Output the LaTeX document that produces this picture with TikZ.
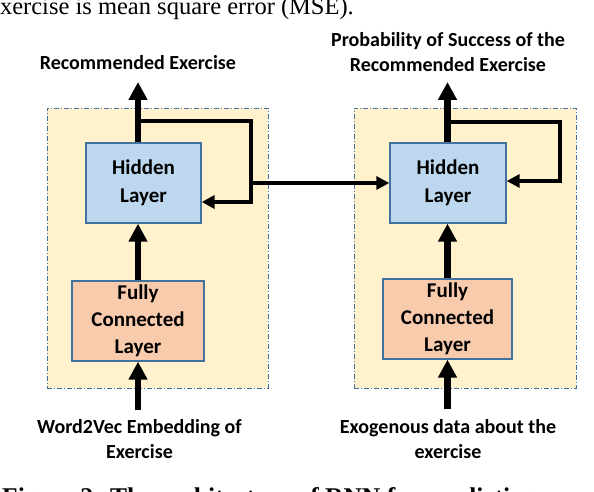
\documentclass[tikz,border=0pt]{standalone}
\usepackage{fontspec}
\setmainfont{Carlito}
\newfontfamily\timesf{Liberation Serif}
\usetikzlibrary{arrows.meta}
\definecolor{contfill}{HTML}{FFF2CC}
\definecolor{edgeblue}{HTML}{41719C}
\definecolor{hidfill}{HTML}{BDD7EE}
\definecolor{fcfill}{HTML}{F8CBAD}
\begin{document}
\begin{tikzpicture}[x=1pt,y=-1pt,
  container/.style={draw=edgeblue, fill=contfill, line width=0.8pt,
    dash pattern=on 5pt off 2pt on 1pt off 2pt, inner sep=0pt},
  hidbox/.style={draw=edgeblue, fill=hidfill, line width=1.3pt, align=center,
    font=\bfseries\fontsize{21}{28}\selectfont, inner sep=0pt,
    minimum height=80pt},
  fcbox/.style={draw=edgeblue, fill=fcfill, line width=1.3pt, align=center,
    font=\bfseries\fontsize{21}{27}\selectfont, inner sep=0pt,
    minimum height=80pt},
  lbl/.style={font=\bfseries\fontsize{20}{25}\selectfont, inner sep=0pt, anchor=base},
  pagetext/.style={anchor=base west, inner sep=0pt},
  bigarrow/.style={line width=6.3pt, -{Triangle[length=18pt,width=18pt]}},
  fb/.style={line width=4pt, line join=miter, -{Triangle[length=13pt,width=13pt]}}]
\useasboundingbox (0,0) rectangle (594,492);
\begin{scope}
  \clip (0,0) rectangle (594,492);
  \node[pagetext, font=\timesf\fontsize{24.5}{24.5}\selectfont] (toptext) at (-11,15)
    {exercise is mean square error (MSE).};
  \node[pagetext, font=\timesf\bfseries\fontsize{25.5}{25.5}\selectfont] (caption) at (2,505)
    {Figure 2: The architecture of RNN for predicting exercise};
\end{scope}

% containers
\node[container, minimum width=221pt, minimum height=280pt] (cL) at (157.5,248) {};
\node[container, minimum width=222pt, minimum height=280pt] (cR) at (465,248) {};

% boxes
\node[hidbox, minimum width=115pt] (hL) at (143.5,183) {Hidden\\Layer};
\node[hidbox, minimum width=116pt] (hR) at (448,183) {Hidden\\Layer};
\node[fcbox, minimum width=132pt] (fcL) at (138,321) {Fully\\Connected\\Layer};
\node[fcbox, minimum width=129pt] (fcR) at (447.5,319) {Fully\\Connected\\Layer};

% labels
\node[lbl] (outLbl) at (138,70) {Recommended Exercise};
\node[lbl] (outRa) at (448,47) {Probability of Success of the};
\node[lbl] (outRb) at (448,72) {Recommended Exercise};
\node[lbl] (inLa) at (139.5,433) {Word2Vec Embedding of};
\node[lbl] (inLb) at (139.5,458) {Exercise};
\node[lbl] (inRa) at (448,433) {Exogenous data about the};
\node[lbl] (inRb) at (448,458) {exercise};

% free ends
\coordinate (inL) at (138,410);
\coordinate (outL) at (138,82);
\coordinate (inR) at (447.5,409);
\coordinate (outR) at (447.5,82);
\coordinate (lpLa) at (138,121);
\coordinate (lpLc) at (251,202);
\coordinate (lpRa) at (447.5,122);
\coordinate (lpRc) at (560,181);

% main arrows
\draw[bigarrow] (inL) -- (fcL.south);
\draw[bigarrow] (fcL.north) -- (fcL.north |- hL.south);
\draw[bigarrow] (fcL.north |- hL.north) -- (outL);
\draw[bigarrow] (inR) -- (fcR.south);
\draw[bigarrow] (fcR.north) -- (fcR.north |- hR.south);
\draw[bigarrow] (fcR.north |- hR.north) -- (outR);

% recurrent loops
\draw[fb] (lpLa) -| (lpLc) -- (hL.east |- lpLc);
\draw[fb] (lpRa) -| (lpRc) -- (hR.east |- lpRc);

% link between the two networks
\draw[fb] (lpLc |- hR.west) -- (hR.west);
\end{tikzpicture}
\end{document}
